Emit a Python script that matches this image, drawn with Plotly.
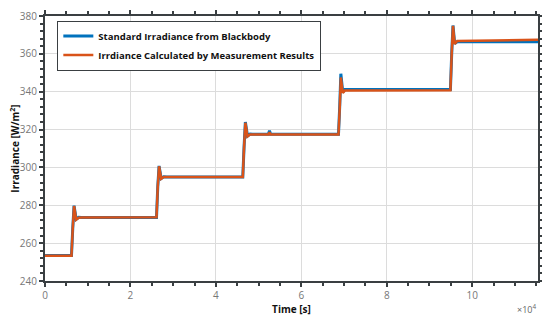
import plotly.graph_objects as go

# Time points [s] and irradiance values [W/m^2]
t_blue = [0, 6200, 6500, 6800, 7300, 7900, 8500, 26100, 26400, 26700, 27200, 27800, 28500,
          46300, 46600, 46900, 47400, 48000, 48600, 52300, 52550, 52800, 53100,
          68700, 69000, 69250, 69700, 70200, 70800, 94900, 95200, 95500, 95900, 96500, 115400]
y_blue = [253.5, 253.5, 268, 279.8, 272.6, 273.6, 273.5, 273.5, 290, 300.8, 294.2, 295.1, 295.0,
          295.0, 311, 324.0, 316.6, 317.6, 317.5, 317.5, 319.4, 317.6, 317.5,
          317.5, 333, 349.5, 339.6, 341.2, 341.2, 341.2, 360, 375.0, 365.4, 366.4, 366.4]

t_orange = [0, 6200, 6500, 6800, 7300, 7900, 8500, 26100, 26400, 26700, 27200, 27800, 28500,
            46300, 46600, 46900, 47400, 48000, 48600, 52300, 52550, 52800, 53100,
            68700, 69000, 69250, 69700, 70200, 70800, 94900, 95200, 95500, 95900, 96500, 105000, 115400]
y_orange = [253.3, 253.3, 268, 279.6, 272.4, 273.4, 273.6, 273.7, 290, 300.6, 294.0, 294.9, 295.0,
            295.0, 311, 323.6, 316.4, 317.4, 317.4, 317.4, 318.6, 317.4, 317.4,
            317.4, 332, 347.5, 339.4, 340.6, 340.7, 340.8, 360, 374.8, 365.2, 366.8, 367.1, 367.4]

x_tickvals = [0, 20000, 40000, 60000, 80000, 100000]
x_ticktext = ["0", "2", "4", "6", "8", "10"]
y_tickvals = [240, 260, 280, 300, 320, 340, 360, 380]

BLUE = "#0072BD"
ORANGE = "#D95319"
AX = "#3a3f42"
FONT = "Open Sans"

fig = go.Figure()
fig.add_trace(go.Scatter(x=t_blue, y=y_blue, mode="lines",
                         line=dict(color=BLUE, width=3),
                         name="<b>Standard Irradiance from Blackbody</b>"))
fig.add_trace(go.Scatter(x=t_orange, y=y_orange, mode="lines",
                         line=dict(color=ORANGE, width=2.5),
                         name="<b>Irrdiance Calculated by Measurement Results</b>"))

axis_common = dict(
    showline=True, linecolor=AX, linewidth=2, mirror="allticks",
    ticks="outside", ticklen=4, tickwidth=1.5, tickcolor=AX,
    showgrid=True, gridcolor="#dcdcdc", gridwidth=1,
    zeroline=False, automargin=False,
    tickfont=dict(family=FONT, size=10, color="#777777"),
)

fig.update_xaxes(range=[0, 115400], tickvals=x_tickvals, ticktext=x_ticktext,
                 minor=dict(dtick=5000, tick0=0, ticks="outside", ticklen=3, tickcolor=AX, showgrid=False),
                 title=dict(text="<b>Time [s]</b>", font=dict(family=FONT, size=10, color="#111111"), standoff=4),
                 **axis_common)
fig.update_yaxes(range=[240, 380], tickvals=y_tickvals,
                 minor=dict(dtick=4, tick0=240, ticks="outside", ticklen=3, tickcolor=AX, showgrid=False),
                 title=dict(text="<b>Irradiance [W/m<sup>2</sup>]</b>", font=dict(family=FONT, size=10, color="#111111"), standoff=9),
                 **axis_common)

fig.add_annotation(xref="paper", yref="paper", x=1.0, y=-0.07, xanchor="right", yanchor="top",
                   text="×10<sup>4</sup>", showarrow=False,
                   font=dict(family=FONT, size=9, color="#666666"))

fig.update_layout(
    width=542, height=312,
    margin=dict(l=37, r=12, t=8, b=39),
    plot_bgcolor="white", paper_bgcolor="white",
    font=dict(family=FONT),
    legend=dict(x=0.025, y=0.983, xanchor="left", yanchor="top",
                bgcolor="white", bordercolor=AX, borderwidth=1,
                font=dict(family=FONT, size=9.5, color="#111111"),
                tracegroupgap=0, itemwidth=30),
    showlegend=True,
)

fig.write_html("out.html")
